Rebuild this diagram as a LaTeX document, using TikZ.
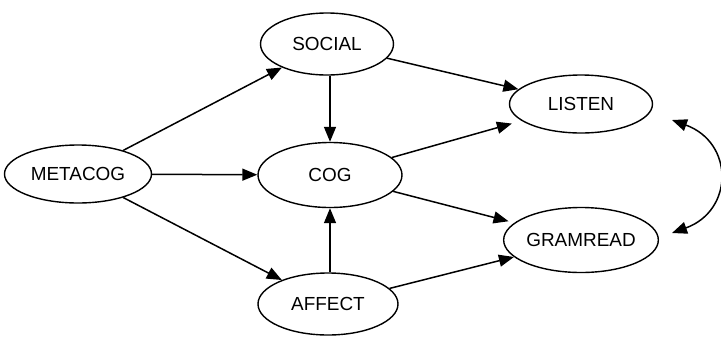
\documentclass[tikz,border=0pt]{standalone}
\usepackage{fontspec}
\setmainfont{Liberation Sans}
\usepackage{tikz}
\usetikzlibrary{shapes.geometric,arrows.meta}
\tikzset{
  construct/.style={draw, ellipse, inner sep=0pt, line width=0.7bp, minimum width=#1},
  construct/.default=72bp,
  link/.style={-{Triangle[length=7.5bp,width=6bp]}, line width=0.75bp},
  twoway/.style={{Triangle[length=7.5bp,width=6bp]}-{Triangle[length=7.5bp,width=6bp]}, line width=0.75bp}
}

\begin{document}
\begin{tikzpicture}[x=0.5bp, y=0.5bp, font=\fontsize{9.5}{11}\selectfont]
  \useasboundingbox (0,0) rectangle (721,336);

  \node[construct=73.5bp, minimum height=29bp] (metacog) at (78,162) {METACOG};
  \node[construct=66.5bp, minimum height=31bp] (social) at (327,292) {SOCIAL};
  \node[construct=72bp, minimum height=32.5bp] (cog) at (330,161) {COG};
  \node[construct=70bp, minimum height=31bp] (affect) at (328,32) {AFFECT};
  \node[construct=71.5bp, minimum height=29bp] (listen) at (581,232) {LISTEN};
  \node[construct=72bp, minimum height=32.5bp] (gramread) at (581,96) {GRAMREAD};

  \coordinate (toplisten) at (672,216);
  \coordinate (topgram) at (672,103);

  \draw[link] (metacog) -- (social);
  \draw[link] (metacog) -- (cog);
  \draw[link] (metacog) -- (affect);
  \draw[link] (social.south -| cog.north) -- (cog.north);
  \draw[link] (affect.north -| cog.south) -- (cog.south);
  \draw[link] (social) -- (listen);
  \draw[link, shorten >=5bp] (cog) -- (listen);
  \draw[link, shorten >=3bp] (cog) -- (gramread);
  \draw[link] (affect) -- (gramread);

  \draw[twoway] (toplisten) to[out=-20, in=20, looseness=1.5] (topgram);
\end{tikzpicture}
\end{document}
